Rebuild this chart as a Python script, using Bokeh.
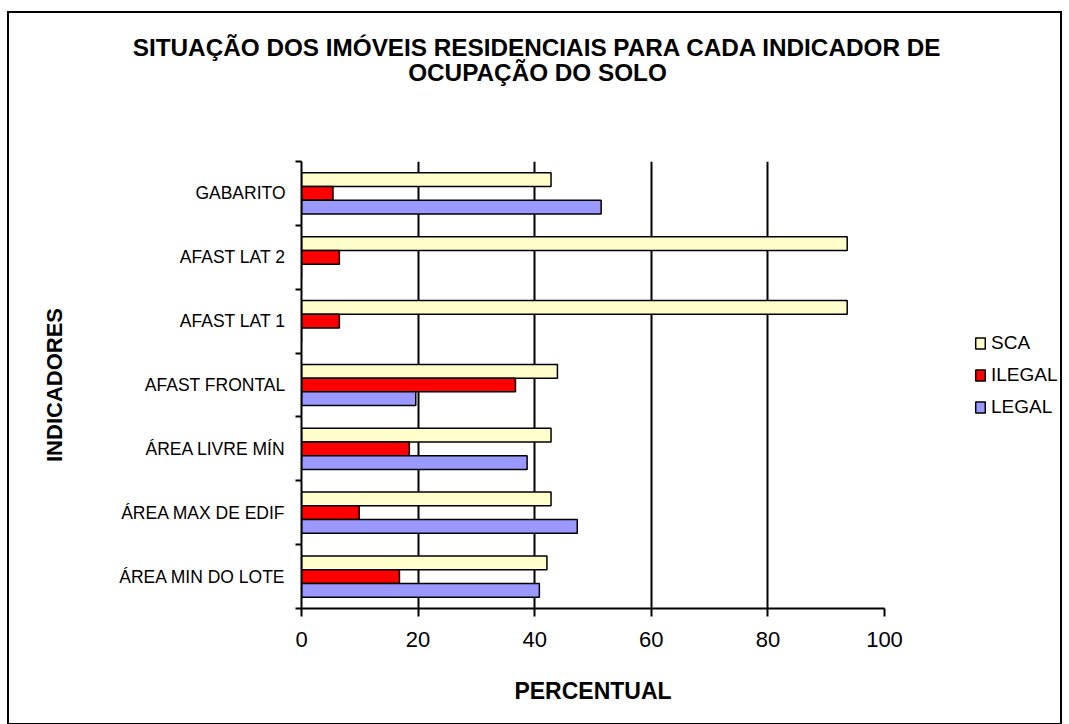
from bokeh.plotting import figure
from bokeh.models import (Range1d, LinearAxis, FixedTicker, Legend, LegendItem,
                          Label, ColumnDataSource, Grid)
from bokeh.layouts import column, row
from bokeh.embed import file_html
from bokeh.resources import INLINE

# ---- data (bottom to top) ----
categories = ["ÁREA MIN DO LOTE", "ÁREA MAX DE EDIF", "ÁREA LIVRE MÍN",
              "AFAST FRONTAL", "AFAST LAT 1", "AFAST LAT 2", "GABARITO"]
sca = [42.1, 42.8, 42.8, 43.9, 93.6, 93.6, 42.8]
ilegal = [16.8, 9.9, 18.5, 36.7, 6.5, 6.5, 5.4]
legal = [40.8, 47.3, 38.7, 19.6, 0.0, 0.0, 51.4]
series_names = ["SCA", "ILEGAL", "LEGAL"]
x_ticks = [0, 20, 40, 60, 80, 100]

title_lines = ["SITUAÇÃO DOS IMÓVEIS RESIDENCIAIS PARA CADA INDICADOR DE",
               "OCUPAÇÃO DO SOLO"]

colors = {"SCA": "#FFFFCC", "ILEGAL": "#FF0000", "LEGAL": "#9999FF"}
FONT = "Liberation Sans"

INNER_W = 1051
TITLE_H = 110
MAIN_W, MAIN_H = 905, 600
LEG_W = INNER_W - MAIN_W


def bare_figure(w, h):
    f = figure(width=w, height=h, output_backend="svg", toolbar_location=None,
               x_range=Range1d(0, w), y_range=Range1d(0, h),
               x_axis_type=None, y_axis_type=None, min_border=0)
    f.outline_line_color = None
    f.xgrid.visible = False
    f.ygrid.visible = False
    return f


# ---- title ----
tf = bare_figure(INNER_W, TITLE_H)
for line, ypos in zip(title_lines, [76, 51]):
    tf.add_layout(Label(x=528, y=ypos, text=line, text_align="center",
                        text_baseline="middle", text_font=FONT,
                        text_font_style="bold", text_font_size="24.3px",
                        text_color="black"))

# ---- main chart ----
p = figure(width=MAIN_W, height=MAIN_H, output_backend="svg", toolbar_location=None,
           x_range=Range1d(0, 100), y_range=Range1d(0, len(categories)),
           x_axis_type=None, y_axis_type=None,
           min_border_left=292, min_border_right=30,
           min_border_top=38, min_border_bottom=115)
p.outline_line_color = None

bar_h = 0.215
centers = [i + 0.5 for i in range(len(categories))]
values = {"SCA": sca, "ILEGAL": ilegal, "LEGAL": legal}
offsets = {"SCA": bar_h, "ILEGAL": 0.0, "LEGAL": -bar_h}

for name in series_names:
    src = ColumnDataSource(dict(y=[c + offsets[name] for c in centers],
                                right=values[name]))
    p.hbar(y="y", left=0, right="right", height=bar_h, source=src,
           fill_color=colors[name], line_color="black", line_width=1.5)

xaxis = LinearAxis(ticker=FixedTicker(ticks=x_ticks, minor_ticks=[]))
xaxis.axis_line_width = 2
xaxis.axis_line_color = "black"
xaxis.major_tick_line_width = 2
xaxis.major_tick_line_color = "black"
xaxis.major_tick_in = 0
xaxis.major_tick_out = 8
xaxis.minor_tick_line_color = None
xaxis.major_label_text_font = FONT
xaxis.major_label_text_font_size = "22px"
xaxis.major_label_text_color = "black"
xaxis.major_label_standoff = 15
xaxis.axis_label = "PERCENTUAL"
xaxis.axis_label_text_font = FONT
xaxis.axis_label_text_font_style = "bold"
xaxis.axis_label_text_font_size = "23px"
xaxis.axis_label_text_color = "black"
xaxis.axis_label_standoff = 28
p.add_layout(xaxis, "below")

yaxis = LinearAxis(ticker=FixedTicker(ticks=centers,
                                      minor_ticks=list(range(len(categories) + 1))))
yaxis.major_label_overrides = {c: lab for c, lab in zip(centers, categories)}
yaxis.axis_line_width = 2
yaxis.axis_line_color = "black"
yaxis.major_tick_line_color = None
yaxis.major_tick_in = 0
yaxis.major_tick_out = 0
yaxis.minor_tick_line_color = "black"
yaxis.minor_tick_line_width = 2
yaxis.minor_tick_in = 0
yaxis.minor_tick_out = 6
yaxis.major_label_text_font = FONT
yaxis.major_label_text_font_size = "17.5px"
yaxis.major_label_text_color = "black"
yaxis.major_label_standoff = 10
yaxis.axis_label = "INDICADORES"
yaxis.axis_label_text_font = FONT
yaxis.axis_label_text_font_style = "bold"
yaxis.axis_label_text_font_size = "22px"
yaxis.axis_label_text_color = "black"
yaxis.axis_label_standoff = 49
p.add_layout(yaxis, "left")

p.add_layout(Grid(dimension=0, ticker=xaxis.ticker, grid_line_color="black",
                  grid_line_width=2))

# ---- legend panel (hidden swatch renderers only feed the legend) ----
lf = bare_figure(LEG_W, MAIN_H)
items = []
for name in series_names:
    r = lf.hbar(y=[1], left=0, right=[1], height=1,
                fill_color=colors[name], line_color="black", line_width=1.5)
    r.visible = False
    items.append(LegendItem(label=name, renderers=[r]))
legend = Legend(items=items, location=(60, 190), glyph_width=12, glyph_height=14,
                label_text_font=FONT, label_text_font_size="19px",
                label_text_color="black", label_standoff=5, label_height=20,
                spacing=10, padding=10, margin=0, border_line_color=None,
                background_fill_alpha=0)
lf.add_layout(legend, "center")

layout = column(tf, row(p, lf), spacing=0,
                styles={"margin-left": "7px", "margin-top": "11px",
                        "border": "2px solid black", "background": "white"})

open("out.html", "w").write(file_html(layout, INLINE))
